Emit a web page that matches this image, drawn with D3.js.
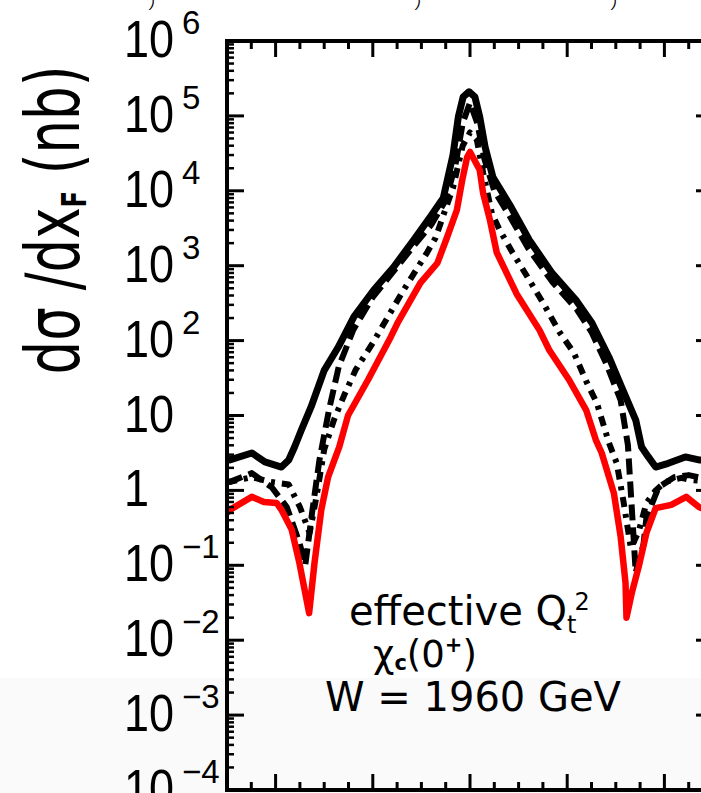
<!DOCTYPE html>
<html>
<head>
<meta charset="utf-8">
<script src="https://cdn.jsdelivr.net/npm/d3@7"></script>
<style>
  html, body { margin: 0; padding: 0; background: #fff; }
  svg { display: block; }
</style>
</head>
<body>
<div id="chart"></div>
<script>
// x_F distributions, log y axis (nb)
const yDecades = [-4, -3, -2, -1, 0, 1, 2, 3, 4, 5, 6];

const xfSolid = [-0.5, -0.494, -0.449, -0.422, -0.388, -0.373, -0.361, -0.347, -0.327, -0.300, -0.271, -0.239, -0.198, -0.157, -0.116, -0.082, -0.055, -0.035, -0.024, -0.014, -0.002, 0.010, 0.020, 0.031, 0.047, 0.082, 0.122, 0.169, 0.218, 0.251, 0.286, 0.312, 0.341, 0.353, 0.367, 0.382, 0.408, 0.443, 0.471, 0.5];
const solidVals = [2.6, 2.55, 3.16, 2.4, 2.05, 2.55, 3.8, 6.4, 13, 40, 82, 207, 474, 962, 2200, 4470, 8000, 3.0e4, 9.7e4, 1.8e5, 2.1e5, 1.8e5, 9.7e4, 3.85e4, 1.53e4, 6460, 2200, 795, 347, 172, 60, 24, 8.7, 3.8, 2.8, 2.05, 2.3, 2.8, 2.55, 2.5];

const xfDashed = [-0.5, -0.494, -0.449, -0.408, -0.377, -0.351, -0.339, -0.325, -0.31, -0.29, -0.27, -0.24, -0.2, -0.16, -0.12, -0.08, -0.05, -0.03, -0.015, 0, 0.015, 0.03, 0.05, 0.08, 0.12, 0.17, 0.22, 0.25, 0.28, 0.31, 0.325, 0.341, 0.357, 0.363, 0.388, 0.42, 0.45, 0.47, 0.5];
const dashedVals = [1.3, 1.3, 1.7, 1.1, 0.6, 0.2, 0.1, 0.5, 2.5, 12, 45, 140, 380, 800, 1700, 3500, 7500, 2.2e4, 8e4, 1.5e5, 8e4, 2.6e4, 1.0e4, 4800, 1700, 600, 260, 130, 50, 16, 4, 0.08, 0.19, 0.43, 1.1, 1.5, 1.6, 1.5, 1.4];

const xfDashDot = [-0.5, -0.494, -0.449, -0.41, -0.373, -0.35, -0.33, -0.316, -0.300, -0.280, -0.259, -0.235, -0.200, -0.169, -0.139, -0.108, -0.088, -0.071, -0.035, -0.015, 0, 0.014, 0.027, 0.045, 0.061, 0.088, 0.122, 0.153, 0.184, 0.214, 0.241, 0.261, 0.286, 0.302, 0.316, 0.331, 0.347, 0.363, 0.382, 0.402, 0.435, 0.453, 0.5];
const dashDotVals = [1.3, 1.3, 1.5, 1.3, 1.2, 0.6, 0.27, 0.82, 3.5, 8.7, 18.6, 41, 93, 207, 447, 935, 1510, 2350, 1.1e4, 4e4, 6e4, 4.8e4, 1.74e4, 5000, 3000, 1480, 645, 298, 130, 68, 27, 14.7, 4.3, 2.3, 0.7, 0.17, 0.28, 0.68, 1.0, 1.3, 1.47, 1.38, 1.3];

const xfRed = [-0.5, -0.494, -0.449, -0.424, -0.398, -0.388, -0.367, -0.351, -0.331, -0.320, -0.306, -0.292, -0.269, -0.251, -0.210, -0.163, -0.149, -0.102, -0.067, -0.047, -0.027, -0.016, -0.006, 0, 0.006, 0.020, 0.027, 0.041, 0.055, 0.096, 0.143, 0.163, 0.204, 0.239, 0.259, 0.271, 0.296, 0.310, 0.320, 0.322, 0.333, 0.347, 0.363, 0.382, 0.414, 0.445, 0.471, 0.5];
const redVals = [0.5, 0.55, 0.82, 0.70, 0.68, 0.55, 0.30, 0.107, 0.023, 0.107, 0.55, 1.5, 3.8, 10, 29.8, 112, 172, 588, 1087, 2416, 5540, 1.39e4, 2.8e4, 3.3e4, 2.8e4, 1.9e4, 9300, 4070, 1500, 420, 138, 75, 29.8, 11.8, 4.7, 3.16, 0.92, 0.24, 0.058, 0.020, 0.043, 0.095, 0.27, 0.58, 0.64, 0.82, 0.60, 0.5];

const series = [
  { xs: xfSolid,   ys: solidVals,   color: '#000', w: 7, dash: null },
  { xs: xfDashed,  ys: dashedVals,  color: '#000', w: 6, dash: '16,7' },
  { xs: xfDashDot, ys: dashDotVals, color: '#000', w: 6, dash: '10,7,4,7' },
  { xs: xfRed,     ys: redVals,     color: '#ff0000', w: 6.5, dash: null }
];

const W = 701, H = 793;
const svg = d3.select('#chart').append('svg').attr('width', W).attr('height', H);

// faint grey band at the bottom of the scan
svg.append('rect').attr('x', 0).attr('y', 678).attr('width', W).attr('height', H - 678).attr('fill', '#fafafa');

const x = d3.scaleLinear().domain([-0.5, 0.5]).range([227, 713]);
const y = d3.scaleLog().domain([1e-4, 1e6]).range([790, 41]);

const font = '"Liberation Sans", Arial, sans-serif';
const wide = '"DejaVu Sans", sans-serif';

// curves
const line = d3.line().x(d => x(d[0])).y(d => y(d[1]));
const plot = svg.append('g');
series.forEach(s => {
  plot.append('path')
    .datum(s.xs.map((v, i) => [v, s.ys[i]]))
    .attr('d', line)
    .attr('fill', 'none')
    .attr('stroke', s.color)
    .attr('stroke-width', s.w)
    .attr('stroke-linejoin', 'round')
    .attr('stroke-dasharray', s.dash);
});

// ticks (all inward)
const majX = d3.range(-0.4, 0.41, 0.2);
const minX = d3.range(-0.45, 0.5, 0.05).filter(v => Math.abs(Math.round(v / 0.2) * 0.2 - v) > 1e-6);
const majY = yDecades.map(e => Math.pow(10, e));
const minY = [];
yDecades.slice(0, -1).forEach(e => { for (let k = 2; k < 10; k++) minY.push(k * Math.pow(10, e)); });

const ax = svg.append('g').attr('stroke', '#000').attr('stroke-width', 3);
const [x0, x1] = x.range();
const [yb, yt] = y.range();
majX.forEach(v => {
  ax.append('line').attr('x1', x(v)).attr('x2', x(v)).attr('y1', yt).attr('y2', yt + 16);
  ax.append('line').attr('x1', x(v)).attr('x2', x(v)).attr('y1', yb).attr('y2', yb - 16);
});
minX.forEach(v => {
  ax.append('line').attr('x1', x(v)).attr('x2', x(v)).attr('y1', yt).attr('y2', yt + 8);
  ax.append('line').attr('x1', x(v)).attr('x2', x(v)).attr('y1', yb).attr('y2', yb - 8);
});
majY.forEach(v => {
  ax.append('line').attr('x1', x0).attr('x2', x0 + 17).attr('y1', y(v)).attr('y2', y(v));
  ax.append('line').attr('x1', x1).attr('x2', x1 - 17).attr('y1', y(v)).attr('y2', y(v));
});
minY.forEach(v => {
  ax.append('line').attr('x1', x0).attr('x2', x0 + 7).attr('y1', y(v)).attr('y2', y(v)).attr('stroke-width', 2.5);
  ax.append('line').attr('x1', x1).attr('x2', x1 - 7).attr('y1', y(v)).attr('y2', y(v)).attr('stroke-width', 2.5);
});

// frame
svg.append('rect').attr('x', x0).attr('y', yt).attr('width', x1 - x0).attr('height', yb - yt)
  .attr('fill', 'none').attr('stroke', '#000').attr('stroke-width', 4);

// y tick labels
const lab = svg.append('g').attr('font-family', font).attr('fill', '#000');
yDecades.forEach(e => {
  const yy = y(Math.pow(10, e));
  lab.append('text').attr('transform', `translate(124,${yy + 16}) scale(1,1.15)`)
    .attr('font-size', 45).text(e === 0 ? '1' : '10');
  if (e === 0 || e === 1) return;
  lab.append('text').attr('x', 182).attr('y', yy - 7).attr('font-size', 33)
    .text(e < 0 ? '\u2212' + (-e) : String(e));
});

// y axis title
const ttl = svg.append('text').attr('font-family', wide).attr('font-size', 53)
  .attr('transform', 'translate(79,220) scale(1.4,1) rotate(-90)').attr('text-anchor', 'middle');
ttl.append('tspan').text('d\u03c3 /dx');
ttl.append('tspan').attr('font-size', 24).attr('dy', 5).attr('font-weight', 'bold').text('F');
ttl.append('tspan').attr('dy', -5).text(' (nb)');

// annotation
const ann = svg.append('g').attr('font-family', wide).attr('fill', '#000');
const t1 = ann.append('text').attr('x', 349).attr('y', 625).attr('font-size', 40);
t1.append('tspan').text('effective Q');
t1.append('tspan').attr('font-size', 24).attr('dy', 8).text('t');
t1.append('tspan').attr('font-size', 24).attr('dx', -2).attr('dy', -23).text('2');
const t2 = ann.append('text').attr('x', 373).attr('y', 667).attr('font-size', 37);
t2.append('tspan').text('\u03c7');
t2.append('tspan').attr('font-size', 21).attr('dy', 3).attr('font-weight', 'bold').text('c');
t2.append('tspan').attr('dy', -3).text('(0');
t2.append('tspan').attr('font-size', 21).attr('dy', -15).attr('font-weight', 'bold').text('+');
t2.append('tspan').attr('dy', 15).text(')');
ann.append('text').attr('x', 325).attr('y', 711).attr('font-size', 40).text('W = 1960 GeV');

// leftovers from the panel above
[150, 416, 612].forEach(px => {
  svg.append('text').attr('x', px).attr('y', 7).attr('font-family', font)
    .attr('font-size', 14).attr('font-style', 'italic').text(')');
});
</script>
</body>
</html>
